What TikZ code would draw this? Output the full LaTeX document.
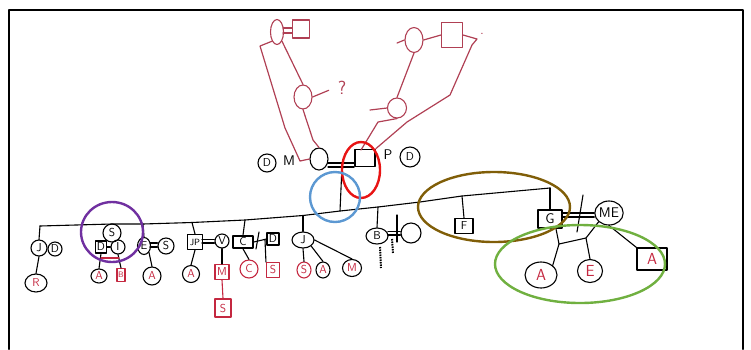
\documentclass[tikz,border=0pt]{standalone}
\usetikzlibrary{shapes.geometric}
\definecolor{famred}{RGB}{176,64,84}
\definecolor{kidred}{RGB}{196,40,64}
\definecolor{ringred}{RGB}{232,20,20}
\definecolor{ringblue}{RGB}{92,152,210}
\definecolor{ringpurple}{RGB}{112,48,160}
\definecolor{ringbrown}{RGB}{128,94,8}
\definecolor{ringgreen}{RGB}{112,176,64}
\begin{document}
\begin{tikzpicture}[x=1pt,y=-1pt,line cap=round,line join=round,
  every node/.style={font=\sffamily\fontsize{11.5}{12}\selectfont},
  pc/.style={draw,ellipse,inner sep=0pt,line width=1.1pt},
  ps/.style={draw,rectangle,inner sep=0pt,line width=1.1pt},
  fam/.style={draw=famred,line width=1.2pt},
  ln/.style={draw=black,line width=1.1pt},
  kid/.style={text=kidred},
  kidr/.style={draw=kidred,text=kidred},
  big/.style={font=\sffamily\fontsize{14}{15}\selectfont},
  huge/.style={font=\sffamily\fontsize{16}{17}\selectfont},
  squig/.style={line width=2pt,line cap=butt,dash pattern=on 1.5pt off 1pt},
  halo/.style={line width=2.4pt}]
\useasboundingbox (0,0) rectangle (751,349);
% frame
\coordinate (fr1) at (9,349); \coordinate (fr2) at (9,10);
\coordinate (fr3) at (743,10); \coordinate (fr4) at (743,349);
\draw[line width=2pt] (fr1) -- (fr2) -- (fr3) -- (fr4);

% ---------- top generations (red) ----------
\node[pc,draw=famred,minimum width=13pt,minimum height=25pt] (gm1) at (277,32) {};
\node[ps,draw=famred,minimum width=17pt,minimum height=18pt] (gf1) at (301,29) {};
\coordinate (g1a) at (283,28); \coordinate (g1b) at (283,33);
\draw[fam] (g1a) -- (g1a -| gf1.west); \draw[fam] (g1b) -- (g1b -| gf1.west);
\node[pc,draw=famred,minimum width=18pt,minimum height=24pt] (ggm) at (303,97) {};
\node[text=famred,font=\sffamily\fontsize{19}{20}\selectfont] (q) at (342,88) {?};
\draw[fam,shorten >=6pt] (ggm.east) -- (q.west);

\node[pc,draw=famred,minimum width=18pt,minimum height=25pt] (gm2) at (414,40) {};
\node[ps,draw=famred,minimum width=21pt,minimum height=25pt] (gf2) at (452,35) {};
\node[pc,draw=famred,minimum width=19pt,minimum height=20pt] (m2) at (397,108) {};
\node[text=famred,font=\sffamily\fontsize{14}{15}\selectfont] (dot) at (482,34) {.};
\coordinate (t5) at (397,43);
\draw[fam] (t5) -- (gm2.west);
\draw[fam] (gm2.east) -- (gf2.west);
\draw[fam] (gm2.south) -- (m2.north);
\coordinate (t10) at (370,110);
\draw[fam] (t10) -- (m2.west);

% ---------- parents ----------
\node[pc,minimum size=18pt] (Dl) at (267,163) {D};
\node[big] (Ml) at (289,161) {M};
\node[pc,minimum width=18pt,minimum height=22pt] (Mo) at (319,159) {};
\node[ps,line width=1.8pt,minimum width=20pt,minimum height=17pt] (Pa) at (365,158) {};
\node[big] (Pl) at (388,155) {P};
\node[pc,minimum size=20pt] (Dr) at (410,157) {D};
\coordinate (mm1) at (328,163); \coordinate (mm2) at (328,167);
\draw[ln] (mm1) -- (mm1 -| Pa.west); \draw[ln] (mm2) -- (mm2 -| Pa.west);

% red lines into parents
\coordinate (t1) at (260,46); \coordinate (t2) at (285,128); \coordinate (t3) at (300,161);
\draw[fam] (gm1.south west) -- (t1) -- (t2) -- (t3) -- (Mo.west);
\draw[fam] (gm1.south east) -- (ggm.north);
\coordinate (t4) at (313,140);
\draw[fam] (ggm.south) -- (t4) -- (Mo.north);
\coordinate (t6) at (477,39); \coordinate (t7) at (472,45);
\coordinate (t8) at (450,95); \coordinate (t9) at (407,122);
\draw[fam] (gf2.east) -- (t6) -- (t7) -- (t8) -- (t9) -- (Pa.north east);
\coordinate (t11) at (378,122); \coordinate (t12) at (361,150);
\draw[fam] (m2.south) -- (t11) -- (t12);

% ---------- sibling line ----------
\coordinate (sJ) at (40,226); \coordinate (sS) at (112,224);
\coordinate (sE) at (143,224); \coordinate (sJP) at (192,222.5);
\coordinate (sC) at (245,220); \coordinate (sJo) at (303,215.5);
\coordinate (sP) at (340,211); \coordinate (sB) at (378,207);
\coordinate (s9) at (420,202); \coordinate (sF) at (462,196);
\coordinate (sG) at (550,188);
\draw[ln] (sJ) -- (sS) -- (sE) -- (sJP) -- (sC) -- (sJo) -- (sP) -- (sB) -- (s9) -- (sF) -- (sG);
\coordinate (mc) at (342,166);
\draw[ln] (mc) -- (sP);

% ---------- children ----------
\node[pc,minimum size=16pt] (J) at (39,248) {J};
\node[pc,minimum size=14pt] (Dw) at (55,249) {D};
\node[pc,kid,minimum width=22pt,minimum height=18pt] (R) at (36,283) {R};
\draw[ln] (sJ) -- (J.north);
\draw[ln] (J.south) -- (R.north);

\node[pc,minimum size=18pt] (S) at (112,233) {S};
\node[ps,minimum width=11pt,minimum height=12pt] (Dsq) at (101,247) {D};
\node[pc,minimum size=14pt] (I) at (118,247) {I};
\draw[ln] (Dsq.east) -- (I.west);
\node[pc,kid,minimum width=16pt,minimum height=14pt] (A1) at (99,276) {A};
\node[ps,kidr,minimum width=8pt,minimum height=13pt,font=\sffamily\fontsize{8}{9}\selectfont] (B1) at (121,275) {B};
\draw[ln] (Dsq.south) -- (A1.north);
\draw[ln] (I.south) -- (B1.north);
\coordinate (rl1) at (101,258); \coordinate (rl2) at (119,258);
\draw[draw=kidred,line width=1.1pt] (rl1) -- (rl2);

\node[pc,minimum width=13pt,minimum height=17pt] (E) at (144,246) {E};
\node[pc,minimum size=16pt] (S2) at (166,246) {S};
\coordinate (e1) at (150,243); \coordinate (e2) at (150,247);
\draw[ln] (e1) -- (e1 -| S2.west); \draw[ln] (e2) -- (e2 -| S2.west);
\node[pc,kid,minimum size=18pt] (A2) at (152,276) {A};
\draw[ln] (sE) -- (E.north);
\draw[ln] (E.south east) -- (A2.north);

\node[ps,minimum width=15pt,minimum height=15pt,font=\sffamily\fontsize{9}{10}\selectfont] (JP) at (195,242) {JP};
\node[pc,minimum size=14pt] (V) at (222,241) {V};
\coordinate (v1) at (202,239.5); \coordinate (v2) at (202,243);
\draw[ln] (v1) -- (v1 -| V.west); \draw[ln] (v2) -- (v2 -| V.west);
\node[pc,kid,minimum size=17pt] (A3) at (191,274) {A};
\node[ps,kidr,minimum width=14pt,minimum height=15pt] (M3) at (222,272) {M};
\node[ps,kidr,minimum width=16pt,minimum height=18pt] (S3) at (223,308) {S};
\draw[ln] (sJP) -- (JP.north);
\draw[ln] (JP.south) -- (A3.north);
\draw[ln] (V.south) -- (M3.north);
\draw[draw=kidred,line width=1.1pt] (M3.south) -- (S3.north);

\node[ps,line width=1.7pt,minimum width=20pt,minimum height=12pt] (C) at (243,242) {C};
\node[ps,minimum width=12pt,minimum height=12pt] (Dsq2) at (273,239) {D};
\draw[ln] (C.east) -- (Dsq2.west);
\coordinate (sl1) at (259,232); \coordinate (sl2) at (256,249);
\draw[ln] (sl1) -- (sl2);
\node[pc,kidr,minimum size=18pt] (C2) at (249,269) {C};
\node[ps,kidr,minimum width=13pt,minimum height=15pt] (S4) at (273,270) {S};
\draw[ln] (sC) -- (C.north);
\draw[ln] (C.south) -- (C2.north);
\coordinate (cm) at (265,240);
\draw[ln] (cm) -- (S4.north west);

\node[pc,minimum width=22pt,minimum height=16pt] (Jo) at (303,240) {J};
\node[pc,kidr,minimum width=14pt,minimum height=16pt] (S5) at (304,270) {S};
\node[pc,kid,minimum width=14pt,minimum height=16pt] (A4) at (323,270) {A};
\node[pc,kid,minimum width=19pt,minimum height=17pt] (M4) at (352,268) {M};
\draw[ln] (sJo) -- (Jo.north);
\draw[ln] (Jo.south) -- (S5.north);
\draw[ln] (Jo.south east) -- (A4.north);
\draw[ln] (Jo.east) -- (M4.north);

\node[pc,minimum width=22pt,minimum height=16pt] (Bo) at (377,236) {B};
\node[pc,minimum size=20pt] (Wo) at (411,233) {};
\coordinate (b1) at (388,231.5); \coordinate (b2) at (388,235);
\draw[ln] (b1) -- (b1 -| Wo.west); \draw[ln] (b2) -- (b2 -| Wo.west);
\coordinate (bs1) at (397,215); \coordinate (bs2) at (397,242);
\draw[ln] (bs1) -- (bs2);
\draw[ln] (sB) -- (Bo.north);
\coordinate (sq0) at (380,247); \coordinate (sq1) at (381,268);
\coordinate (sq2) at (392,239); \coordinate (sq3) at (393,253);
\draw[squig] (sq0) -- (sq1);
\draw[squig] (sq2) -- (sq3);

\node[ps,minimum width=18pt,minimum height=15pt] (F) at (464,226) {F};
\draw[ln] (sF) -- (F.north);

\node[ps,big,line width=1.8pt,minimum width=24pt,minimum height=18pt] (G) at (550,219) {G};
\node[pc,big,minimum width=28pt,minimum height=24pt] (ME) at (609,213) {ME};
\draw[ln] (sG) -- (G.north);
\coordinate (gm1c) at (562,213); \coordinate (gm2c) at (562,217);
\draw[ln] (gm1c) -- (gm1c -| ME.west); \draw[ln] (gm2c) -- (gm2c -| ME.west);
\coordinate (gs1) at (583,195); \coordinate (gs2) at (577,232);
\draw[ln] (gs1) -- (gs2);
\node[pc,kid,huge,minimum width=32pt,minimum height=26pt] (A5) at (541,275) {A};
\node[pc,kid,huge,minimum width=25pt,minimum height=23pt] (E5) at (590,271) {E};
\node[ps,kid,huge,minimum width=30pt,minimum height=22pt] (A6) at (652,259) {A};
\coordinate (j1) at (559,244); \coordinate (j2) at (586,238);
\draw[ln] ([xshift=6pt]G.south) -- (j1) -- (j2);
\draw[ln] (ME.south west) -- (j2) -- (E5.north);
\draw[ln] (j1) -- (A5.north east);
\draw[ln] (ME.south) -- (A6.north west);

% ---------- highlight rings ----------
\draw[ringred,halo] (361,170) ellipse [x radius=19pt,y radius=28pt];
\draw[ringblue,halo] (335,197) circle [radius=25pt];
\draw[ringpurple,halo] (112,232) ellipse [x radius=31pt,y radius=30pt];
\draw[ringbrown,halo] (494,207) ellipse [x radius=76pt,y radius=35pt];
\draw[ringgreen,halo] (580,264) ellipse [x radius=85pt,y radius=39pt];
\end{tikzpicture}
\end{document}
